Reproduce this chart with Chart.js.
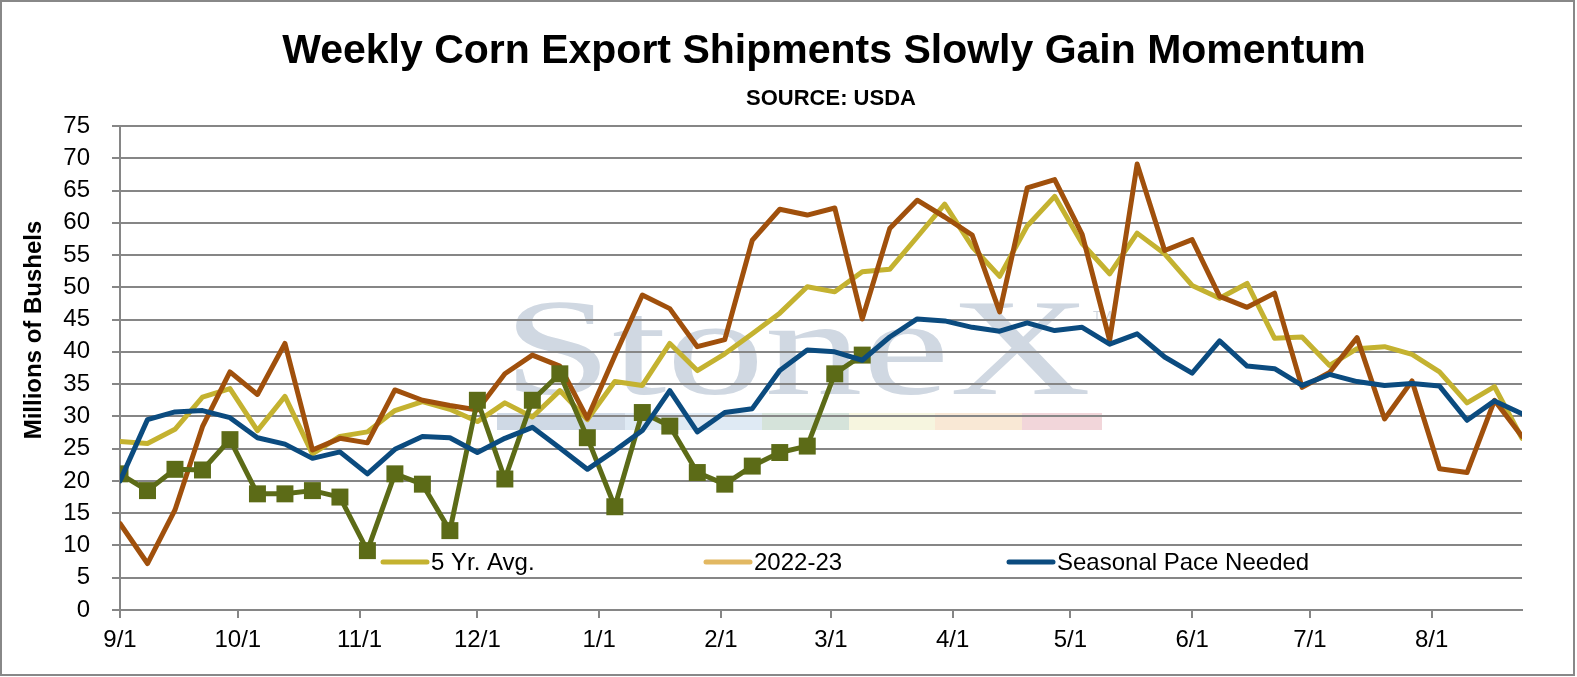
<!DOCTYPE html>
<html>
<head>
<meta charset="utf-8">
<script src="https://cdn.jsdelivr.net/npm/chart.js@4.4.1/dist/chart.umd.min.js"></script>
<style>
  html, body { margin: 0; padding: 0; background: #fff; }
  #wrap { width: 1577px; height: 677px; position: relative; }
</style>
</head>
<body>
<div id="wrap"><canvas id="chart"></canvas></div>
<script>
// weekly shipment dates (marketing year 2022-23)
const weekDates = [
  '2022-09-01', '2022-09-08', '2022-09-15', '2022-09-22', '2022-09-29',
  '2022-10-06', '2022-10-13', '2022-10-20', '2022-10-27',
  '2022-11-03', '2022-11-10', '2022-11-17', '2022-11-24',
  '2022-12-01', '2022-12-08', '2022-12-15', '2022-12-22', '2022-12-29',
  '2023-01-05', '2023-01-12', '2023-01-19', '2023-01-26',
  '2023-02-02', '2023-02-09', '2023-02-16', '2023-02-23',
  '2023-03-02', '2023-03-09', '2023-03-16', '2023-03-23', '2023-03-30',
  '2023-04-06', '2023-04-13', '2023-04-20', '2023-04-27',
  '2023-05-04', '2023-05-11', '2023-05-18', '2023-05-25',
  '2023-06-01', '2023-06-08', '2023-06-15', '2023-06-22', '2023-06-29',
  '2023-07-06', '2023-07-13', '2023-07-20', '2023-07-27',
  '2023-08-03', '2023-08-10', '2023-08-17', '2023-08-24'
];

const avg5yr = [
  26.1, 25.8, 28.0, 33.0, 34.3, 27.8, 33.1, 24.2, 26.9, 27.6, 30.9, 32.3, 31.1,
  29.2, 32.1, 29.9, 34.0, 29.5, 35.4, 34.8, 41.3, 37.1, 39.7, 42.8, 46.0, 50.1,
  49.3, 52.4, 52.8, 57.8, 62.9, 56.3, 51.7, 59.5, 64.1, 56.8, 52.1, 58.4, 55.2,
  50.3, 48.3, 50.6, 42.1, 42.3, 37.9, 40.5, 40.8, 39.6, 36.9, 32.1, 34.6, 26.6
];

const prior2122 = [
  13.4, 7.2, 15.5, 28.4, 36.9, 33.4, 41.3, 24.8, 26.6, 25.9, 34.1, 32.5, 31.7,
  31.0, 36.6, 39.5, 37.8, 29.7, 39.4, 48.8, 46.7, 40.8, 41.9, 57.3, 62.1, 61.2,
  62.3, 45.1, 59.1, 63.5, 60.9, 58.1, 46.2, 65.4, 66.7, 58.2, 41.8, 69.1, 55.7,
  57.4, 48.6, 46.9, 49.1, 34.5, 36.8, 42.2, 29.6, 35.5, 21.9, 21.3, 32.5, 26.9
];

const current2223 = [
  21.1, 18.5, 21.8, 21.7, 26.4, 18.0, 18.0, 18.5, 17.5, 9.2, 21.1, 19.5, 12.3,
  32.5, 20.3, 32.5, 36.6, 26.7, 16.0, 30.6, 28.5, 21.3, 19.5, 22.3, 24.4, 25.4,
  36.6, 39.5
];

const paceNeeded = [
  20.0, 29.5, 30.7, 30.9, 29.8, 26.7, 25.7, 23.5, 24.5, 21.1, 24.9, 26.9, 26.7,
  24.4, 26.6, 28.3, 25.1, 21.8, 24.7, 27.8, 34.0, 27.6, 30.6, 31.2, 37.1, 40.3,
  40.0, 38.7, 42.3, 45.1, 44.8, 43.8, 43.2, 44.5, 43.3, 43.8, 41.2, 42.8, 39.2,
  36.7, 41.7, 37.8, 37.4, 34.8, 36.5, 35.4, 34.8, 35.1, 34.7, 29.4, 32.4, 30.4
];

const monthTickDates = [
  '2022-09-01', '2022-10-01', '2022-11-01', '2022-12-01', '2023-01-01', '2023-02-01',
  '2023-03-01', '2023-04-01', '2023-05-01', '2023-06-01', '2023-07-01', '2023-08-01'
];
const monthTickLabels = ['9/1', '10/1', '11/1', '12/1', '1/1', '2/1', '3/1', '4/1', '5/1', '6/1', '7/1', '8/1'];

const legendLabels = ['5 Yr. Avg.', '2022-23', 'Seasonal Pace Needed'];
const legendColors = ['#C4B230', '#E2B862', '#0B4B7F'];

const titleText = 'Weekly Corn Export Shipments Slowly Gain Momentum';
const subtitleText = 'SOURCE: USDA';
const yTitleText = 'Millions of Bushels';

const FONT = '"Liberation Sans", Arial, sans-serif';
const GRID = '#868686';

const t0 = Date.parse(weekDates[0]);
const dayOf = d => (Date.parse(d) - t0) / 86400000;
const toXY = vals => vals.map((v, i) => ({ x: dayOf(weekDates[i]), y: v }));

const decor = {
  id: 'decor',
  beforeDraw(chart) {
    const ctx = chart.ctx;
    ctx.save();
    ctx.fillStyle = '#fff';
    ctx.fillRect(0, 0, chart.width, chart.height);

    // StoneX watermark
    ctx.save();
    ctx.font = '138px "Liberation Serif", "DejaVu Serif", serif';
    ctx.fillStyle = '#D0D8E2';
    ctx.textBaseline = 'alphabetic';
    const w = ctx.measureText('StoneX').width;
    ctx.translate(503, 394);
    ctx.scale(588 / w, 1);
    ctx.fillText('StoneX', 0, 0);
    ctx.restore();
    ctx.font = '13px ' + FONT;
    ctx.fillStyle = '#D0D6DE';
    ctx.fillText('TM', 1093, 320);
    const bars = [
      [497, 625, '#CFD9E5'], [625, 762, '#DFEAF4'], [762, 849, '#D5E3DA'],
      [849, 935, '#F6F5DF'], [935, 1022, '#F9E8D5'], [1022, 1102, '#F2D6DA']
    ];
    bars.forEach(b => { ctx.fillStyle = b[2]; ctx.fillRect(b[0], 413, b[1] - b[0], 17); });
    ctx.restore();
  },
  afterDraw(chart) {
    const ctx = chart.ctx;
    const ca = chart.chartArea;
    ctx.save();
    ctx.fillStyle = '#000';
    ctx.textAlign = 'center';
    ctx.textBaseline = 'alphabetic';
    ctx.font = 'bold 41px ' + FONT;
    ctx.fillText(titleText, (ca.left + ca.right) / 2 + 3, 63);
    ctx.font = 'bold 22px ' + FONT;
    ctx.fillText(subtitleText, 831, 105);

    ctx.translate(34, 330);
    ctx.rotate(-Math.PI / 2);
    ctx.textBaseline = 'middle';
    ctx.font = 'bold 24px ' + FONT;
    ctx.fillText(yTitleText, 0, 0);
    ctx.restore();

    // legend inside plot
    ctx.save();
    const lx = [383, 706, 1009];
    const ly = 562;
    ctx.font = '24px ' + FONT;
    ctx.textBaseline = 'middle';
    ctx.textAlign = 'left';
    legendLabels.forEach((lab, i) => {
      ctx.strokeStyle = legendColors[i];
      ctx.lineWidth = 5;
      ctx.lineCap = 'round';
      ctx.beginPath();
      ctx.moveTo(lx[i], ly);
      ctx.lineTo(lx[i] + 44, ly);
      ctx.stroke();
      ctx.fillStyle = '#000';
      ctx.fillText(lab, lx[i] + 48, ly + 1);
    });

    // outer frame
    ctx.strokeStyle = '#888';
    ctx.lineWidth = 2;
    ctx.strokeRect(1, 1, chart.width - 4, chart.height - 3);
    ctx.restore();
  }
};

Chart.defaults.font.family = FONT;

new Chart(document.getElementById('chart'), {
  type: 'line',
  data: {
    datasets: [
      {
        label: 'Seasonal Pace Needed', data: toXY(paceNeeded),
        borderColor: '#0B4B7F', borderWidth: 5, pointRadius: 0, order: 0
      },
      {
        label: '2022-23', data: toXY(current2223),
        borderColor: '#5C6B17', backgroundColor: '#5C6B17', borderWidth: 5,
        pointStyle: 'rect', pointRadius: 12, pointBorderWidth: 0, order: 1
      },
      {
        label: '2021-22', data: toXY(prior2122),
        borderColor: '#A0500C', borderWidth: 5, pointRadius: 0, order: 2
      },
      {
        label: '5 Yr. Avg.', data: toXY(avg5yr),
        borderColor: '#C4B230', borderWidth: 5, pointRadius: 0, order: 3
      }
    ]
  },
  options: {
    responsive: true,
    maintainAspectRatio: false,
    animation: false,
    layout: { padding: { top: 126, right: 55, left: 0, bottom: 0 } },
    elements: { line: { tension: 0, borderJoinStyle: 'round', borderCapStyle: 'round' } },
    plugins: { legend: { display: false }, title: { display: false }, tooltip: { enabled: false } },
    scales: {
      x: {
        type: 'linear',
        min: 0,
        max: dayOf(weekDates[weekDates.length - 1]),
        afterBuildTicks: s => { s.ticks = monthTickDates.map(d => ({ value: dayOf(d) })); },
        afterFit: s => { s.height = 67; },
        ticks: {
          autoSkip: false, maxRotation: 0, color: '#000', padding: 8,
          font: { size: 24 },
          callback: v => monthTickLabels[monthTickDates.findIndex(d => dayOf(d) === v)]
        },
        grid: { drawOnChartArea: false, drawTicks: true, tickLength: 8, color: GRID, lineWidth: 2 },
        border: { color: GRID, width: 2 }
      },
      y: {
        min: 0, max: 75,
        afterFit: s => { s.width = 120; },
        ticks: { stepSize: 5, color: '#000', padding: 22, font: { size: 24 } },
        grid: { color: GRID, lineWidth: 2, tickLength: 8 },
        border: { color: GRID, width: 2 }
      }
    }
  },
  plugins: [decor]
});
</script>
</body>
</html>
